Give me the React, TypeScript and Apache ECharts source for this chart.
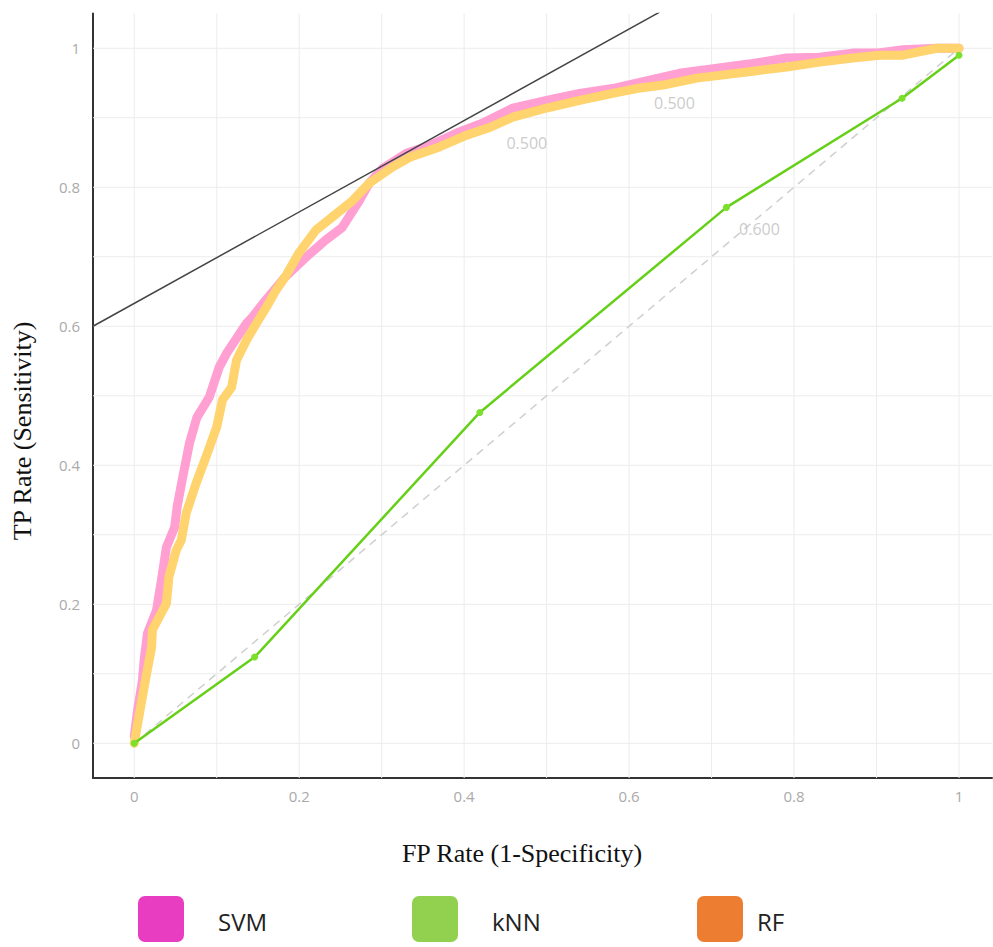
import React, { useEffect, useRef } from "react";
import * as echarts from "echarts";

// ROC points [FP rate, TP rate]
const svmPoints: number[][] = [
  [0, 0.01], [0.004, 0.047], [0.01, 0.091], [0.012, 0.12], [0.016, 0.158], [0.027, 0.191],
  [0.033, 0.235], [0.039, 0.282], [0.049, 0.311], [0.052, 0.34], [0.058, 0.378], [0.067, 0.432],
  [0.076, 0.469], [0.091, 0.498], [0.103, 0.541], [0.113, 0.563], [0.136, 0.604], [0.143, 0.613],
  [0.159, 0.637], [0.183, 0.671], [0.208, 0.699], [0.232, 0.724], [0.252, 0.742], [0.273, 0.781],
  [0.285, 0.806], [0.301, 0.827], [0.33, 0.849], [0.358, 0.86], [0.391, 0.878], [0.422, 0.892],
  [0.459, 0.914], [0.5, 0.925], [0.54, 0.935], [0.58, 0.942], [0.613, 0.951], [0.661, 0.964],
  [0.718, 0.973], [0.75, 0.978], [0.791, 0.986], [0.831, 0.987], [0.871, 0.993], [0.9, 0.993],
  [0.932, 0.998], [0.973, 1.0], [1.0, 1.0],
];

const rfPoints: number[][] = [
  [0, 0], [0.012, 0.081], [0.021, 0.138], [0.022, 0.163], [0.03, 0.181], [0.039, 0.201],
  [0.042, 0.239], [0.051, 0.278], [0.057, 0.292], [0.063, 0.331], [0.075, 0.374], [0.087, 0.412],
  [0.1, 0.455], [0.107, 0.494], [0.118, 0.512], [0.124, 0.551], [0.136, 0.58], [0.148, 0.604],
  [0.16, 0.627], [0.172, 0.652], [0.183, 0.671], [0.2, 0.706], [0.22, 0.738], [0.24, 0.757],
  [0.265, 0.781], [0.285, 0.806], [0.313, 0.829], [0.334, 0.843], [0.37, 0.858], [0.403, 0.875],
  [0.431, 0.886], [0.459, 0.901], [0.5, 0.914], [0.54, 0.925], [0.58, 0.935], [0.609, 0.942],
  [0.641, 0.947], [0.682, 0.957], [0.71, 0.961], [0.75, 0.967], [0.791, 0.973], [0.831, 0.98],
  [0.871, 0.986], [0.904, 0.99], [0.932, 0.99], [0.973, 1.0], [1.0, 1.0],
];

const knnPoints: number[][] = [
  [0, 0], [0.146, 0.124], [0.419, 0.476], [0.718, 0.771], [0.931, 0.928], [1.0, 0.99],
];

const diagonalPoints: number[][] = [[0, 0], [1, 1]];
const tangentPoints: number[][] = [[-0.05, 0.6], [0.637, 1.052]];

const xTickValues = [0, 0.2, 0.4, 0.6, 0.8, 1];
const yTickValues = [0, 0.2, 0.4, 0.6, 0.8, 1];
const gridValues = [0, 0.1, 0.2, 0.3, 0.4, 0.5, 0.6, 0.7, 0.8, 0.9, 1];

const thresholdLabels = [
  { text: "0.500", x: 0.476, y: 0.863 },
  { text: "0.500", x: 0.655, y: 0.921 },
  { text: "0.600", x: 0.758, y: 0.74 },
];

const legendItems = [
  { name: "SVM", color: "#e83dc1" },
  { name: "kNN", color: "#92d050" },
  { name: "RF", color: "#ed7d31" },
];

const X_MIN = -0.05;
const X_MAX = 1.04;
const Y_MIN = -0.05;
const Y_MAX = 1.05;

export default function App() {
  const ref = useRef<HTMLDivElement>(null);

  useEffect(() => {
    if (!ref.current) return;
    const chart = echarts.init(ref.current, undefined, { renderer: "svg" });

    const gridSeries: any[] = [];
    gridValues.forEach((v) => {
      gridSeries.push({
        type: "line",
        data: [[v, Y_MIN], [v, Y_MAX]],
        symbol: "none",
        silent: true,
        z: 0,
        lineStyle: { color: "#ececec", width: 1 },
      });
      gridSeries.push({
        type: "line",
        data: [[X_MIN, v], [X_MAX, v]],
        symbol: "none",
        silent: true,
        z: 0,
        lineStyle: { color: "#ececec", width: 1 },
      });
    });

    const legendX = [138, 412, 697];
    const legendGraphics: any[] = [];
    legendItems.forEach((item, i) => {
      legendGraphics.push({
        type: "rect",
        shape: { x: legendX[i], y: 896, width: 46, height: 46, r: 7 },
        style: { fill: item.color },
      });
      legendGraphics.push({
        type: "text",
        x: legendX[i] + (i === 2 ? 60 : 80),
        y: 921,
        style: {
          text: item.name,
          fill: "#222",
          font: "24px 'Open Sans', sans-serif",
          textVerticalAlign: "middle",
        },
      });
    });

    chart.setOption({
      animation: false,
      grid: { left: 93, right: 1, top: 13.5, bottom: 169, containLabel: false },
      xAxis: {
        type: "value",
        min: X_MIN,
        max: X_MAX,
        splitLine: { show: false },
        axisTick: { show: false },
        axisLine: { show: true, onZero: false, lineStyle: { color: "#333", width: 2 } },
        axisLabel: {
          customValues: xTickValues,
          color: "#aaaaaa",
          fontSize: 15,
          fontFamily: "'Open Sans', sans-serif",
          margin: 10,
          formatter: (v: number) => String(Math.round(v * 10) / 10),
        },
      },
      yAxis: {
        type: "value",
        min: Y_MIN,
        max: Y_MAX,
        splitLine: { show: false },
        axisTick: { show: false },
        axisLine: { show: true, onZero: false, lineStyle: { color: "#333", width: 2 } },
        axisLabel: {
          customValues: yTickValues,
          color: "#aaaaaa",
          fontSize: 15,
          fontFamily: "'Open Sans', sans-serif",
          margin: 13,
          formatter: (v: number) => String(Math.round(v * 10) / 10),
        },
      },
      series: [
        ...gridSeries,
        {
          type: "line",
          data: diagonalPoints,
          symbol: "none",
          silent: true,
          z: 1,
          lineStyle: { color: "#cfcfcf", width: 1.5, type: [8, 6] },
        },
        {
          name: "SVM",
          type: "line",
          data: svmPoints,
          symbol: "none",
          z: 2,
          lineStyle: { color: "#ff9fd2", width: 9, cap: "round", join: "round" },
        },
        {
          name: "RF",
          type: "line",
          data: rfPoints,
          symbol: "none",
          z: 3,
          lineStyle: { color: "#ffd36e", width: 9, cap: "round", join: "round" },
        },
        {
          name: "kNN",
          type: "line",
          data: knnPoints,
          symbol: "circle",
          symbolSize: 7,
          z: 4,
          itemStyle: { color: "#7be02c" },
          lineStyle: { color: "#66d018", width: 2.5 },
        },
        {
          type: "line",
          data: tangentPoints,
          symbol: "none",
          silent: true,
          z: 5,
          lineStyle: { color: "#444", width: 1.5 },
        },
        {
          type: "scatter",
          data: thresholdLabels.map((t) => ({ value: [t.x, t.y], name: t.text })),
          symbolSize: 0,
          z: 6,
          silent: true,
          label: {
            show: true,
            position: "inside",
            formatter: (p: any) => p.name,
            color: "#bdbdbd",
            fontSize: 16,
            fontFamily: "'Open Sans', sans-serif",
          },
        },
      ],
      graphic: [
        {
          type: "text",
          x: 522,
          y: 853,
          style: {
            text: "FP Rate (1-Specificity)",
            fill: "#111",
            font: "26px 'Liberation Serif', serif",
            textAlign: "center",
            textVerticalAlign: "middle",
          },
        },
        {
          type: "text",
          x: 22,
          y: 431,
          rotation: Math.PI / 2,
          style: {
            text: "TP Rate (Sensitivity)",
            fill: "#111",
            font: "26px 'Liberation Serif', serif",
            textAlign: "center",
            textVerticalAlign: "middle",
          },
        },
        ...legendGraphics,
      ],
    });

    return () => chart.dispose();
  }, []);

  return (
    <div
      ref={ref}
      style={{ position: "absolute", left: 0, top: 0, width: 993, height: 947 }}
    />
  );
}
